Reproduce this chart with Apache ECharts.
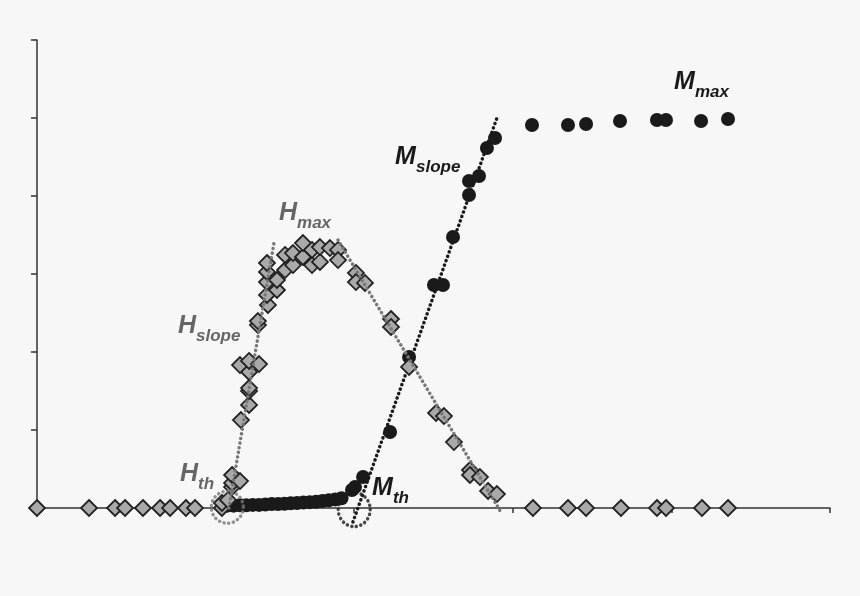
<!DOCTYPE html>
<html>
<head>
<meta charset="utf-8">
<script src="https://cdn.jsdelivr.net/npm/echarts@6/dist/echarts.min.js"></script>
<style>
html,body{margin:0;padding:0;background:#f7f7f7;}
#c{width:860px;height:596px;}
</style>
</head>
<body>
<div id="c"></div>
<script>
// ---- data (x: 0..50, y: 0..60) ----
var hBaseline = [[0,0],[3.28,0],[4.92,0],[5.55,0],[6.68,0],[7.76,0],[8.39,0],[9.39,0],[9.96,0],[11.66,0],
  [31.27,0],[33.48,0],[34.62,0],[36.82,0],[39.09,0],[39.66,0],[41.93,0],[43.57,0]];
var hRising = [[11.66,0.64],[12.04,1.03],[12.30,2.69],[12.30,3.21],[12.30,4.23],[12.80,3.46],
  [12.86,11.28],[13.37,13.21],[13.37,15.0],[13.37,15.38],[13.37,17.44],[12.80,18.33],[13.37,18.85],
  [14.0,18.46],[13.93,23.46],[13.93,23.97],[14.56,26.03],[14.50,27.31],[14.50,28.97],[14.50,30.26],[14.50,31.41]];
var hPlateau = [[15.13,27.95],[15.13,29.23],[15.64,30.51],[15.64,32.44],[16.14,31.15],[16.14,32.69],
  [16.77,32.18],[16.77,33.97],[17.34,31.15],[17.34,33.08],[17.84,31.54],[17.84,33.46],[18.47,33.33],
  [18.98,33.08],[18.98,31.79]];
var hFalling = [[20.11,30.13],[20.11,28.97],[20.68,28.85],[22.32,24.23],[22.32,23.21],[23.46,18.08],
  [25.16,12.18],[25.66,11.79],[26.29,8.46],[27.30,4.87],[27.30,4.23],[27.93,3.97],[28.44,2.18],[29.0,1.79]];
var mLow = [[12.0,0.3],[12.4,0.3],[12.8,0.35],[13.2,0.35],[13.6,0.4],[14.0,0.4],[14.4,0.45],[14.8,0.5],
  [15.2,0.5],[15.6,0.55],[16.0,0.6],[16.4,0.65],[16.8,0.7],[17.2,0.75],[17.6,0.8],[18.0,0.9],[18.4,1.0],
  [18.8,1.1],[19.2,1.25]];
var mRising = [[19.86,2.31],[20.05,2.69],[20.56,3.97],[22.26,9.74],[23.46,19.36],[25.03,28.59],[25.6,28.59],
  [26.23,34.74],[27.24,40.13],[27.24,41.92],[27.87,42.56],[28.37,46.15],[28.88,47.44]];
var mMax = [[31.21,49.1],[33.48,49.1],[34.62,49.23],[36.76,49.62],[39.09,49.74],[39.66,49.74],[41.87,49.62],[43.57,49.87]];
var hSlopeLine = [[12.1,0],[14.94,33.97]];
var hFallLine = [[18.98,34.36],[29.32,-0.77]];
var mSlopeLine = [[19.92,-1.79],[29.0,50.0]];
var hThCircle = [[12.0,0.1]];
var mThCircle = [[20.0,-0.2]];
var annotations = [
  {main:'H', sub:'max',   x:15.26, y:37.76, group:'H'},
  {main:'H', sub:'slope', x:8.89,  y:23.33, group:'H'},
  {main:'H', sub:'th',    x:9.02,  y:4.36,  group:'H'},
  {main:'M', sub:'slope', x:22.57, y:45.0,  group:'M'},
  {main:'M', sub:'max',   x:40.16, y:54.62, group:'M'},
  {main:'M', sub:'th',    x:21.12, y:2.5,   group:'M'}
];

var GRAY = '#777777', BLACK = '#1a1a1a';
var chart = echarts.init(document.getElementById('c'), null, {renderer:'canvas'});
var dotted = function(color, z){
  return {type:'line', data:null, symbol:'none', clip:false, z:z, silent:true,
    lineStyle:{color:color, width:3.5, type:[0.1,4.6], cap:'round'}};
};
var hStyle = {type:'scatter', symbol:'diamond', symbolSize:16, z:3,
  itemStyle:{color:'#a9a9a9', borderColor:'#222', borderWidth:1.8, opacity:1}};
var mStyle = {type:'scatter', symbol:'circle', symbolSize:14, z:2,
  itemStyle:{color:BLACK, opacity:1}};
function withData(base, data, extra){
  var o = Object.assign({}, base, extra||{}); o.data = data; return o;
}
var option = {
  backgroundColor:'#f7f7f7',
  animation:false,
  grid:{left:37, right:30, top:40, bottom:88, containLabel:false},
  xAxis:{type:'value', min:0, max:50, interval:10,
    axisLine:{show:true, onZero:false, lineStyle:{color:'#333', width:1.5}},
    axisTick:{show:true, length:5, inside:false, lineStyle:{color:'#333', width:1.5}},
    axisLabel:{show:false}, splitLine:{show:false}},
  yAxis:{type:'value', min:0, max:60, interval:10,
    axisLine:{show:true, lineStyle:{color:'#333', width:1.5}},
    axisTick:{show:true, length:6, inside:false, lineStyle:{color:'#333', width:1.5}},
    axisLabel:{show:false}, splitLine:{show:false}},
  series:[
    withData(dotted(BLACK,1), mSlopeLine),
    withData(mStyle, mLow),
    withData(mStyle, mRising),
    withData(mStyle, mMax),
    withData(hStyle, hBaseline),
    withData(hStyle, hRising),
    withData(hStyle, hPlateau),
    withData(hStyle, hFalling),
    withData(dotted(GRAY,4), hSlopeLine),
    withData(dotted(GRAY,4), hFallLine),
    {type:'scatter', data:hThCircle, symbol:'circle', symbolSize:32, z:5, clip:false,
      itemStyle:{color:'rgba(0,0,0,0)', borderColor:GRAY, borderWidth:3.5, borderType:[0.1,4.6], borderCap:'round'}},
    {type:'scatter', data:mThCircle, symbol:'circle', symbolSize:[32,34], z:5, clip:false,
      itemStyle:{color:'rgba(0,0,0,0)', borderColor:BLACK, borderWidth:3.5, borderType:[0.1,4.6], borderCap:'round'}}
  ]
};
chart.setOption(option);

var graphics = [];
annotations.forEach(function(a){
  var p = chart.convertToPixel({gridIndex:0}, [a.x, a.y]);
  var color = a.group === 'H' ? '#666666' : BLACK;
  var big = 25;
  var off = a.group === 'H' ? 18 : 21;
  graphics.push({type:'text', x:p[0], y:p[1], z:10, style:{text:a.main, fill:color,
    font:'italic bold '+big+'px "Liberation Sans", Arial, sans-serif', verticalAlign:'middle', align:'left'}});
  graphics.push({type:'text', x:p[0]+off, y:p[1]+10, z:10, style:{text:a.sub, fill:color,
    font:'italic bold 17px "Liberation Sans", Arial, sans-serif', verticalAlign:'middle', align:'left'}});
});
chart.setOption({graphic:graphics});
</script>
</body>
</html>
